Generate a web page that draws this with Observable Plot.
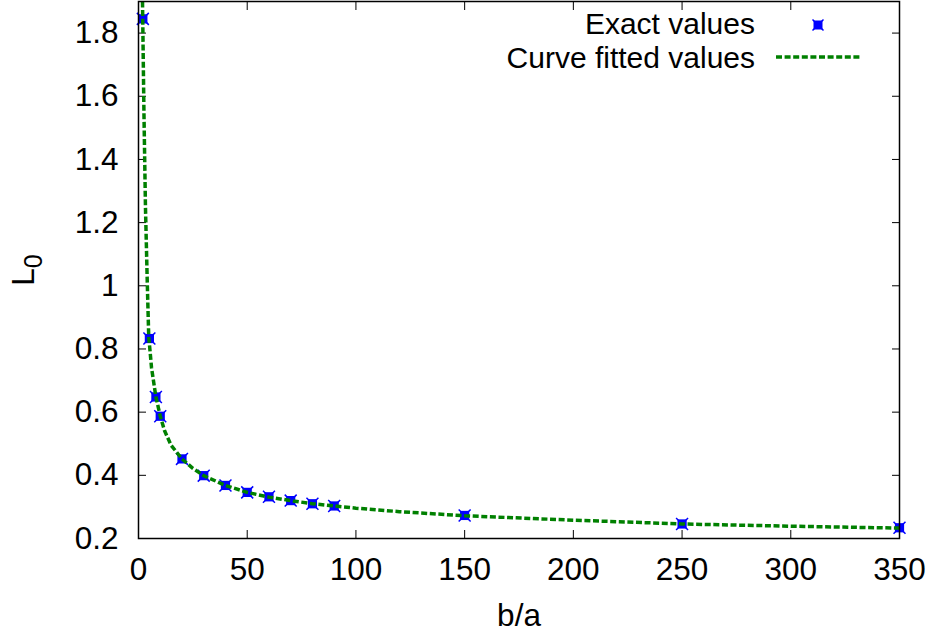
<!DOCTYPE html>
<html>
<head>
<meta charset="utf-8">
<script src="https://cdn.jsdelivr.net/npm/d3@7"></script>
<script src="https://cdn.jsdelivr.net/npm/@observablehq/plot@0.6"></script>
<style>
  html, body { margin: 0; padding: 0; background: #fff; }
  #chart { width: 930px; height: 636px; }
</style>
</head>
<body>
<div id="chart"></div>
<script>
// Exact values (b/a, L0)
const exactX = [2, 5, 8, 10, 20, 30, 40, 50, 60, 70, 80, 90, 150, 250, 350];
const exactY = [1.845, 0.833, 0.648, 0.587, 0.452, 0.399, 0.368, 0.346, 0.332, 0.320, 0.310, 0.303, 0.273, 0.246, 0.234];

// Curve fitted values
const fitX = [1.84, 2.5, 3.2, 4.0, 4.7, 6, 8, 10, 12, 15, 20, 25, 30, 40, 50, 60, 70, 80, 90, 100, 120, 150, 200, 250, 300, 350];
const fitY = [1.90, 1.55, 1.25, 1.02, 0.84, 0.74, 0.648, 0.588, 0.541, 0.495, 0.452, 0.422, 0.399, 0.368, 0.346, 0.331, 0.320, 0.310, 0.303, 0.296, 0.285, 0.272, 0.258, 0.246, 0.239, 0.233];

const xTicks = [0, 50, 100, 150, 200, 250, 300, 350];
const yTicks = [0.2, 0.4, 0.6, 0.8, 1.0, 1.2, 1.4, 1.6, 1.8];

const legendLabels = ["Exact values", "Curve fitted values"];
const xLabel = "b/a";
const yLabelMain = "L";
const yLabelSub = "0";

const exact = exactX.map((x, i) => ({x, y: exactY[i]}));
const fit = fitX.map((x, i) => ({x, y: fitY[i]}));

const BLUE = "#0000ff";
const GREEN = "#008000";
const FS = 31.5;
const LFS = 30;
const DASH = "6,2.6";

const svg = Plot.plot({
  width: 930,
  height: 636,
  marginLeft: 138,
  marginRight: 31,
  marginTop: 1,
  marginBottom: 98,
  style: {fontFamily: "'Liberation Sans', Arial, sans-serif", fontSize: FS + "px", background: "#fff", color: "#000"},
  x: {domain: [0, 350], axis: null},
  y: {domain: [0.2, 1.9], axis: null},
  marks: [
    // inward ticks on all four sides
    Plot.axisX(xTicks, {anchor: "bottom", tickSize: 8, dy: -8, text: null, label: null, stroke: "#000"}),
    Plot.axisX(xTicks, {anchor: "top", tickSize: 8, dy: 8, text: null, label: null, stroke: "#000"}),
    Plot.axisY(yTicks, {anchor: "left", tickSize: 8, dx: 8, text: null, label: null, stroke: "#000"}),
    Plot.axisY(yTicks, {anchor: "right", tickSize: 8, dx: -8, text: null, label: null, stroke: "#000"}),
    // tick labels
    Plot.axisX(xTicks, {anchor: "bottom", tickSize: 0, tickPadding: 19, label: null, tickFormat: d => String(d), fontSize: FS, fill: "#000"}),
    Plot.axisY(yTicks, {anchor: "left", tickSize: 0, tickPadding: 20, label: null, tickFormat: d3.format("~g"), fontSize: FS, fill: "#000"}),
    // axis titles
    Plot.text([xLabel], {frameAnchor: "bottom", dy: 87, lineAnchor: "bottom", fontSize: FS, fill: "#000"}),
    Plot.text([yLabelMain], {frameAnchor: "left", dx: -105, rotate: -90, lineAnchor: "bottom", textAnchor: "middle", fontSize: FS, fill: "#000", className: "ylab"}),
    // data
    Plot.dot(exact, {x: "x", y: "y", symbol: "square", r: 5.2, fill: BLUE}),
    Plot.dot(exact, {x: "x", y: "y", symbol: "times", r: 5.5, stroke: BLUE, strokeWidth: 1.5}),
    Plot.line(fit, {x: "x", y: "y", stroke: GREEN, strokeWidth: 3.5, strokeDasharray: DASH, strokeLinecap: "butt", strokeLinejoin: "miter", clip: true}),
    Plot.frame({stroke: "#000", strokeWidth: 1.5})
  ]
});

document.getElementById("chart").appendChild(svg);

// subscript on y label
const ylab = d3.select(svg).select("g.ylab text");
if (!ylab.empty()) {
  ylab.text(yLabelMain);
  ylab.append("tspan").attr("dy", "0.33em").attr("font-size", "25px").text(yLabelSub);
}

// legend (top-right inside the frame)
const s = d3.select(svg);
const lg = s.append("g").attr("font-size", LFS + "px").attr("fill", "#000").attr("text-anchor", "end");
lg.append("text").attr("x", 755).attr("y", 33.5).text(legendLabels[0]);
lg.append("text").attr("x", 755).attr("y", 67.5).text(legendLabels[1]);
lg.append("rect").attr("x", 813.5).attr("y", 20.5).attr("width", 9).attr("height", 9).attr("fill", BLUE);
lg.append("path").attr("d", "M812.5,19.5L823.5,30.5M823.5,19.5L812.5,30.5").attr("stroke", BLUE).attr("stroke-width", 1.5);
lg.append("line").attr("x1", 776).attr("x2", 862).attr("y1", 57).attr("y2", 57)
  .attr("stroke", GREEN).attr("stroke-width", 3.5).attr("stroke-dasharray", DASH);
</script>
</body>
</html>
